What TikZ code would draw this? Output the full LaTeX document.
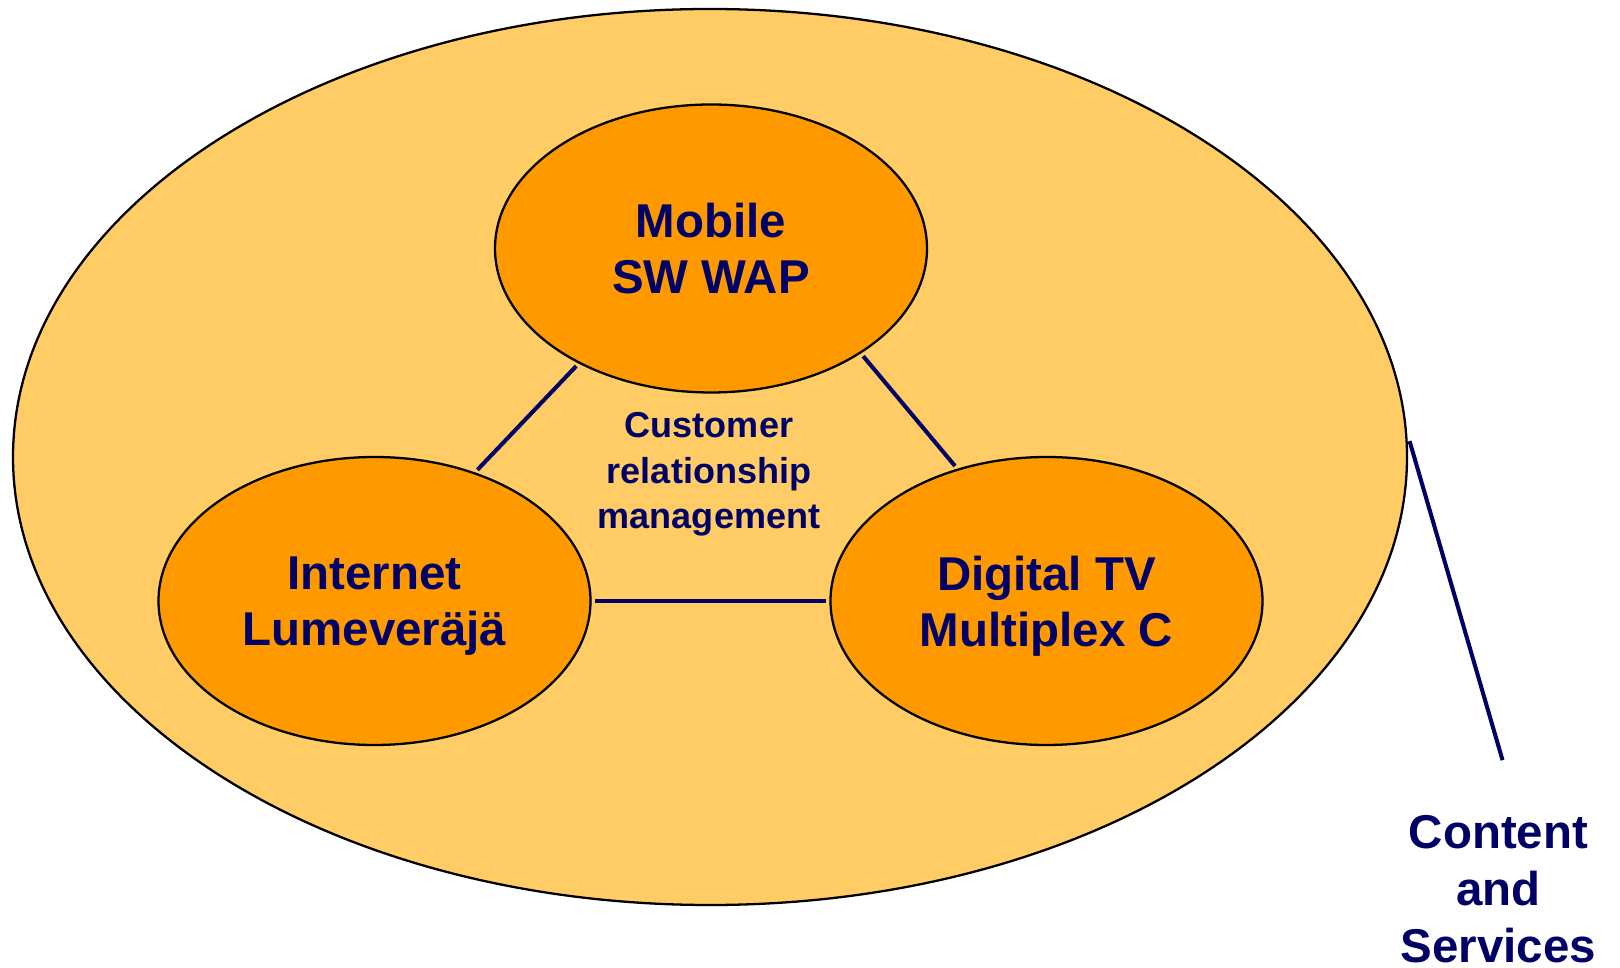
\documentclass[tikz,border=0pt]{standalone}
\usepackage{fontspec}
\setmainfont{Liberation Sans}
\usetikzlibrary{shapes.geometric}
\definecolor{navy}{HTML}{000066}
\definecolor{pale}{HTML}{FFCC66}
\definecolor{deep}{HTML}{FF9900}
\begin{document}
\begin{tikzpicture}[
    field/.style={ellipse, draw=black, line width=1.3pt, fill=pale},
    channel/.style={ellipse, draw=black, line width=1.3pt, fill=deep,
      minimum width=8.64cm, minimum height=5.76cm, text=navy, align=center,
      text depth=0pt, font=\bfseries\fontsize{27}{32}\selectfont},
    link/.style={draw=navy, line width=2.3pt, shorten >=2pt, shorten <=2pt}]
  \useasboundingbox (0,0) rectangle (32.4,19.34);
  \node[field, minimum width=27.88cm, minimum height=17.92cm] (area) at (14.2,10.2) {};
  \node[channel] (mobile) at (14.22,14.37) {Mobile\\SW WAP};
  \node[channel] (internet) at (7.49,7.32) {Internet\\Lumeveräjä};
  \node[channel] (tv) at (20.93,7.32) {Digital TV\\Multiplex C};
  \node[text=navy, align=center, font=\bfseries\fontsize{20.5}{26}\selectfont] (crm) at (14.18,9.85) {Customer\\relationship\\management};
  \draw[link] (mobile.221) -- (internet.52);
  \draw[link] (mobile.325) -- (tv.124);
  \draw[link] (internet.east) -- (tv.west);
  \coordinate (pin) at (30.07,4.07);
  \draw[link, shorten <=5pt] (area.2.8) -- (pin);
  \node[anchor=north, inner sep=0pt, text=navy, align=center, font=\bfseries\fontsize{27}{32.4}\selectfont] (content) at (29.97,3.03) {Content\\and\\Services};
\end{tikzpicture}
\end{document}
